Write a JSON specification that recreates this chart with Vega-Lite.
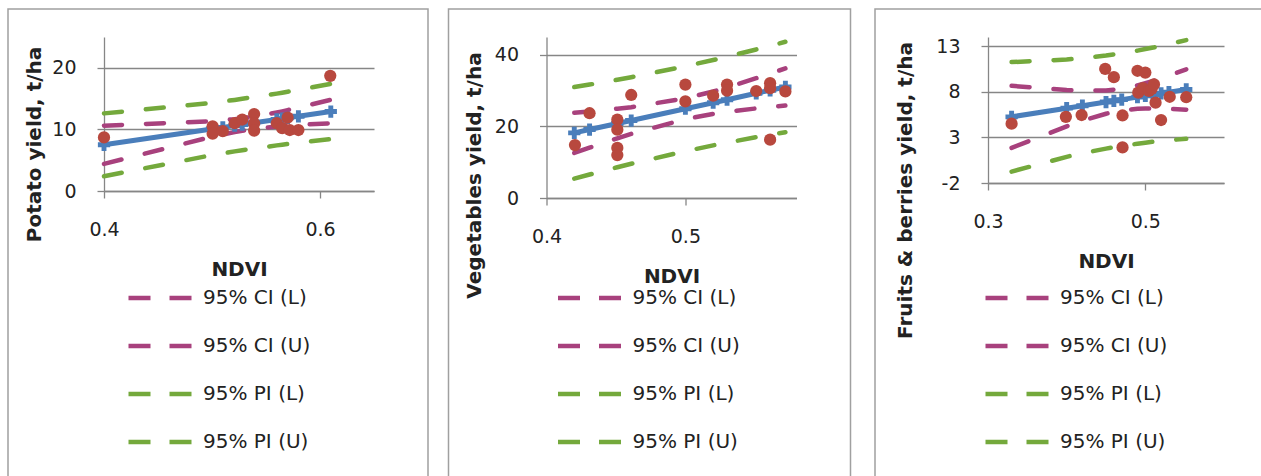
{
  "$schema": "https://vega.github.io/schema/vega-lite/v6.json",
  "padding": {"left": 7, "top": 8, "right": 0, "bottom": 0},
  "background": "white",
  "config": {
    "font": "DejaVu Sans",
    "view": {"stroke": "#a0a0a0", "strokeWidth": 1.5},
    "axis": {
      "domainColor": "#868686", "domainWidth": 1.3,
      "gridColor": "#868686", "gridWidth": 1.3,
      "tickColor": "#868686", "tickWidth": 1.3, "tickSize": 7,
      "labelFont": "DejaVu Sans", "labelFontSize": 19, "labelColor": "#222222",
      "labelFlush": false, "labelOverlap": false, "labelBound": false,
      "titleFont": "DejaVu Sans", "titleFontSize": 20, "titleFontWeight": "bold", "titleColor": "#222222"
    },
    "legend": {
      "orient": "none", "title": null, "direction": "vertical",
      "symbolType": "stroke", "symbolSize": 4225, "symbolStrokeWidth": 4.5, "symbolDash": [22, 19],
      "labelFont": "DejaVu Sans", "labelFontSize": 20, "labelColor": "#222222", "labelOffset": 7,
      "rowPadding": 3, "padding": 0
    }
  },
  "datasets": {
    "p1fit": [
      {"x": 0.40, "pred": 7.50, "95% CI (L)": 4.40, "95% CI (U)": 10.60, "95% PI (L)": 2.40, "95% PI (U)": 12.60},
      {"x": 0.50, "pred": 10.07, "95% CI (L)": 8.81, "95% CI (U)": 11.33, "95% PI (L)": 5.83, "95% PI (U)": 14.31},
      {"x": 0.51, "pred": 10.33, "95% CI (L)": 9.15, "95% CI (U)": 11.50, "95% PI (L)": 6.11, "95% PI (U)": 14.54},
      {"x": 0.521, "pred": 10.61, "95% CI (L)": 9.57, "95% CI (U)": 11.66, "95% PI (L)": 6.43, "95% PI (U)": 14.79},
      {"x": 0.528, "pred": 10.79, "95% CI (L)": 9.78, "95% CI (U)": 11.80, "95% PI (L)": 6.61, "95% PI (U)": 14.97},
      {"x": 0.539, "pred": 11.07, "95% CI (L)": 10.07, "95% CI (U)": 12.07, "95% PI (L)": 6.89, "95% PI (U)": 15.25},
      {"x": 0.56, "pred": 11.61, "95% CI (L)": 10.47, "95% CI (U)": 12.75, "95% PI (L)": 7.41, "95% PI (U)": 15.81},
      {"x": 0.565, "pred": 11.74, "95% CI (L)": 10.55, "95% CI (U)": 12.93, "95% PI (L)": 7.52, "95% PI (U)": 15.96},
      {"x": 0.57, "pred": 11.87, "95% CI (L)": 10.61, "95% CI (U)": 13.13, "95% PI (L)": 7.63, "95% PI (U)": 16.11},
      {"x": 0.58, "pred": 12.13, "95% CI (L)": 10.73, "95% CI (U)": 13.53, "95% PI (L)": 7.84, "95% PI (U)": 16.42},
      {"x": 0.61, "pred": 12.90, "95% CI (L)": 10.99, "95% CI (U)": 14.81, "95% PI (L)": 8.42, "95% PI (U)": 17.38}
    ],
    "p1obs": [
      {"x": 0.40, "y": 8.7}, {"x": 0.5006, "y": 10.5}, {"x": 0.5006, "y": 9.3}, {"x": 0.51, "y": 9.7},
      {"x": 0.521, "y": 11.0}, {"x": 0.528, "y": 11.6}, {"x": 0.539, "y": 12.5}, {"x": 0.539, "y": 11.0},
      {"x": 0.539, "y": 9.8}, {"x": 0.56, "y": 11.0}, {"x": 0.565, "y": 10.2}, {"x": 0.57, "y": 11.9},
      {"x": 0.572, "y": 9.9}, {"x": 0.58, "y": 9.9}, {"x": 0.6095, "y": 18.7}
    ],
    "p2fit": [
      {"x": 0.42, "pred": 18.2, "95% CI (L)": 12.6, "95% CI (U)": 23.8, "95% PI (L)": 5.4, "95% PI (U)": 31.0},
      {"x": 0.431, "pred": 19.13, "95% CI (L)": 14.08, "95% CI (U)": 24.18, "95% PI (L)": 6.56, "95% PI (U)": 31.70},
      {"x": 0.451, "pred": 20.82, "95% CI (L)": 16.69, "95% CI (U)": 24.95, "95% PI (L)": 8.60, "95% PI (U)": 33.04},
      {"x": 0.461, "pred": 21.66, "95% CI (L)": 17.93, "95% CI (U)": 25.39, "95% PI (L)": 9.56, "95% PI (U)": 33.76},
      {"x": 0.50, "pred": 24.95, "95% CI (L)": 22.05, "95% CI (U)": 27.85, "95% PI (L)": 13.08, "95% PI (U)": 36.82},
      {"x": 0.52, "pred": 26.64, "95% CI (L)": 23.50, "95% CI (U)": 29.78, "95% PI (L)": 14.71, "95% PI (U)": 38.57},
      {"x": 0.53, "pred": 27.48, "95% CI (L)": 24.07, "95% CI (U)": 30.89, "95% PI (L)": 15.48, "95% PI (U)": 39.48},
      {"x": 0.551, "pred": 29.26, "95% CI (L)": 25.04, "95% CI (U)": 33.48, "95% PI (L)": 17.0, "95% PI (U)": 41.52},
      {"x": 0.561, "pred": 30.10, "95% CI (L)": 25.43, "95% CI (U)": 34.77, "95% PI (L)": 17.68, "95% PI (U)": 42.52},
      {"x": 0.572, "pred": 31.03, "95% CI (L)": 25.83, "95% CI (U)": 36.23, "95% PI (L)": 18.4, "95% PI (U)": 43.66}
    ],
    "p2obs": [
      {"x": 0.4205, "y": 14.8}, {"x": 0.431, "y": 23.7}, {"x": 0.451, "y": 21.9}, {"x": 0.451, "y": 19.1},
      {"x": 0.451, "y": 14.0}, {"x": 0.451, "y": 12.0}, {"x": 0.461, "y": 28.8}, {"x": 0.50, "y": 31.7},
      {"x": 0.50, "y": 27.0}, {"x": 0.52, "y": 28.6}, {"x": 0.53, "y": 31.7}, {"x": 0.53, "y": 30.0},
      {"x": 0.551, "y": 29.9}, {"x": 0.561, "y": 32.1}, {"x": 0.561, "y": 30.7}, {"x": 0.561, "y": 16.3},
      {"x": 0.572, "y": 29.8}
    ],
    "p3fit": [
      {"x": 0.33, "pred": 5.25, "95% CI (L)": 1.85, "95% CI (U)": 8.65, "95% PI (L)": -0.75, "95% PI (U)": 11.25},
      {"x": 0.40, "pred": 6.20, "95% CI (L)": 4.21, "95% CI (U)": 8.19, "95% PI (L)": 0.87, "95% PI (U)": 11.53},
      {"x": 0.42, "pred": 6.47, "95% CI (L)": 4.82, "95% CI (U)": 8.12, "95% PI (L)": 1.26, "95% PI (U)": 11.68},
      {"x": 0.45, "pred": 6.87, "95% CI (L)": 5.59, "95% CI (U)": 8.15, "95% PI (L)": 1.77, "95% PI (U)": 11.97},
      {"x": 0.46, "pred": 7.01, "95% CI (L)": 5.79, "95% CI (U)": 8.23, "95% PI (L)": 1.92, "95% PI (U)": 12.10},
      {"x": 0.47, "pred": 7.14, "95% CI (L)": 5.94, "95% CI (U)": 8.34, "95% PI (L)": 2.06, "95% PI (U)": 12.22},
      {"x": 0.49, "pred": 7.41, "95% CI (L)": 6.13, "95% CI (U)": 8.69, "95% PI (L)": 2.31, "95% PI (U)": 12.51},
      {"x": 0.50, "pred": 7.55, "95% CI (L)": 6.17, "95% CI (U)": 8.93, "95% PI (L)": 2.42, "95% PI (U)": 12.68},
      {"x": 0.51, "pred": 7.68, "95% CI (L)": 6.18, "95% CI (U)": 9.19, "95% PI (L)": 2.52, "95% PI (U)": 12.84},
      {"x": 0.52, "pred": 7.82, "95% CI (L)": 6.17, "95% CI (U)": 9.47, "95% PI (L)": 2.61, "95% PI (U)": 13.03},
      {"x": 0.53, "pred": 7.95, "95% CI (L)": 6.13, "95% CI (U)": 9.77, "95% PI (L)": 2.69, "95% PI (U)": 13.21},
      {"x": 0.552, "pred": 8.25, "95% CI (L)": 6.03, "95% CI (U)": 10.46, "95% PI (L)": 2.84, "95% PI (U)": 13.66}
    ],
    "p3obs": [
      {"x": 0.33, "y": 4.5}, {"x": 0.399, "y": 5.25}, {"x": 0.419, "y": 5.45}, {"x": 0.449, "y": 10.5},
      {"x": 0.46, "y": 9.6}, {"x": 0.471, "y": 5.4}, {"x": 0.471, "y": 1.9}, {"x": 0.49, "y": 10.3},
      {"x": 0.50, "y": 10.1}, {"x": 0.491, "y": 7.9}, {"x": 0.497, "y": 8.4}, {"x": 0.5046, "y": 8.1},
      {"x": 0.508, "y": 8.3}, {"x": 0.511, "y": 8.8}, {"x": 0.513, "y": 6.8}, {"x": 0.52, "y": 4.9},
      {"x": 0.531, "y": 7.45}, {"x": 0.552, "y": 7.4}
    ]
  },
  "spacing": 18.5,
  "resolve": {"scale": {"color": "independent", "x": "independent", "y": "independent"}, "legend": {"color": "independent"}},
  "hconcat": [
    {
      "width": 420, "height": 470,
      "encoding": {
        "x": {"field": "x", "type": "quantitative",
          "scale": {"domain": [0.4, 0.65], "range": [96, 366], "nice": false, "zero": false},
          "axis": {"values": [0.4, 0.6], "grid": false, "offset": -288, "labelPadding": 22, "title": "NDVI", "titleY": 84, "titleBaseline": "alphabetic"}},
        "y": {"field": "y", "type": "quantitative",
          "scale": {"domain": [0, 25], "range": [182, 28], "nice": false, "zero": false},
          "axis": {"values": [0, 10, 20], "grid": true, "offset": -96, "labelPadding": 21, "title": "Potato yield, t/ha", "titleX": -60, "titleY": 135, "titleBaseline": "bottom"}}
      },
      "layer": [
        {"data": {"name": "p1fit"},
         "transform": [{"fold": ["95% CI (L)", "95% CI (U)", "95% PI (L)", "95% PI (U)"], "as": ["series", "y"]}],
         "mark": {"type": "line", "strokeWidth": 4.5, "strokeDash": [18, 24], "strokeCap": "round"},
         "encoding": {"color": {"field": "series", "type": "nominal",
           "scale": {"domain": ["95% CI (L)", "95% CI (U)", "95% PI (L)", "95% PI (U)"], "range": ["#A8417D", "#A8417D", "#74A93C", "#74A93C"]},
           "legend": {"legendX": 118, "legendY": 254, "rowPadding": 3}}}},
        {"data": {"name": "p1fit"},
         "transform": [{"fold": ["pred"], "as": ["series", "y"]}],
         "mark": {"type": "line", "color": "#4A7EBB", "strokeWidth": 5},
         "encoding": {}},
        {"data": {"name": "p1fit"},
         "transform": [{"fold": ["pred"], "as": ["series", "y"]}],
         "mark": {"type": "point", "shape": "cross", "filled": true, "size": 150, "color": "#4A7EBB", "opacity": 1},
         "encoding": {}},
        {"data": {"name": "p1obs"},
         "mark": {"type": "circle", "size": 150, "color": "#B8483E", "opacity": 1},
         "encoding": {}}
      ]
    },
    {
      "spacing": 22.5,
      "resolve": {"scale": {"color": "independent", "x": "independent", "y": "independent"}, "legend": {"color": "independent"}},
      "hconcat": [
        {
          "width": 402, "height": 470,
          "encoding": {
            "x": {"field": "x", "type": "quantitative",
              "scale": {"domain": [0.4, 0.58], "range": [98, 348], "nice": false, "zero": false},
              "axis": {"values": [0.4, 0.5], "grid": false, "offset": -281, "labelPadding": 22, "title": "NDVI", "titleY": 84, "titleBaseline": "alphabetic"}},
            "y": {"field": "y", "type": "quantitative",
              "scale": {"domain": [0, 45], "range": [189, 28], "nice": false, "zero": false},
              "axis": {"values": [0, 20, 40], "grid": true, "offset": -98, "labelPadding": 21, "title": "Vegetables yield, t/ha", "titleX": -62, "titleY": 166, "titleBaseline": "bottom"}}
          },
          "layer": [
            {"data": {"name": "p2fit"},
             "transform": [{"fold": ["95% CI (L)", "95% CI (U)", "95% PI (L)", "95% PI (U)"], "as": ["series", "y"]}],
             "mark": {"type": "line", "strokeWidth": 4.5, "strokeDash": [18, 24], "strokeCap": "round"},
             "encoding": {"color": {"field": "series", "type": "nominal",
               "scale": {"domain": ["95% CI (L)", "95% CI (U)", "95% PI (L)", "95% PI (U)"], "range": ["#A8417D", "#A8417D", "#74A93C", "#74A93C"]},
               "legend": {"legendX": 107, "legendY": 254, "rowPadding": 3}}}},
            {"data": {"name": "p2fit"},
             "transform": [{"fold": ["pred"], "as": ["series", "y"]}],
             "mark": {"type": "line", "color": "#4A7EBB", "strokeWidth": 5},
             "encoding": {}},
            {"data": {"name": "p2fit"},
             "transform": [{"fold": ["pred"], "as": ["series", "y"]}],
             "mark": {"type": "point", "shape": "cross", "filled": true, "size": 150, "color": "#4A7EBB", "opacity": 1},
             "encoding": {}},
            {"data": {"name": "p2obs"},
             "mark": {"type": "circle", "size": 150, "color": "#B8483E", "opacity": 1},
             "encoding": {}}
          ]
        },
        {
          "width": 392, "height": 470,
          "encoding": {
            "x": {"field": "x", "type": "quantitative",
              "scale": {"domain": [0.3, 0.6], "range": [113, 349], "nice": false, "zero": false},
              "axis": {"values": [0.3, 0.5], "grid": false, "offset": -296, "labelPadding": 22, "title": "NDVI", "titleY": 84, "titleBaseline": "alphabetic"}},
            "y": {"field": "y", "type": "quantitative",
              "scale": {"domain": [-2, 14], "range": [174, 28], "nice": false, "zero": false},
              "axis": {"values": [-2, 3, 8, 13], "grid": true, "offset": -113, "labelPadding": 21, "labelExpr": "'' + datum.value", "title": "Fruits & berries yield, t/ha", "titleX": -73, "titleY": 181, "titleBaseline": "bottom"}}
          },
          "layer": [
            {"data": {"name": "p3fit"},
             "transform": [{"fold": ["95% CI (L)", "95% CI (U)", "95% PI (L)", "95% PI (U)"], "as": ["series", "y"]}],
             "mark": {"type": "line", "strokeWidth": 4.5, "strokeDash": [18, 24], "strokeCap": "round"},
             "encoding": {"color": {"field": "series", "type": "nominal",
               "scale": {"domain": ["95% CI (L)", "95% CI (U)", "95% PI (L)", "95% PI (U)"], "range": ["#A8417D", "#A8417D", "#74A93C", "#74A93C"]},
               "legend": {"legendX": 108, "legendY": 254, "rowPadding": 3}}}},
            {"data": {"name": "p3fit"},
             "transform": [{"fold": ["pred"], "as": ["series", "y"]}],
             "mark": {"type": "line", "color": "#4A7EBB", "strokeWidth": 5},
             "encoding": {}},
            {"data": {"name": "p3fit"},
             "transform": [{"fold": ["pred"], "as": ["series", "y"]}],
             "mark": {"type": "point", "shape": "cross", "filled": true, "size": 150, "color": "#4A7EBB", "opacity": 1},
             "encoding": {}},
            {"data": {"name": "p3obs"},
             "mark": {"type": "circle", "size": 150, "color": "#B8483E", "opacity": 1},
             "encoding": {}}
          ]
        }
      ]
    }
  ]
}
